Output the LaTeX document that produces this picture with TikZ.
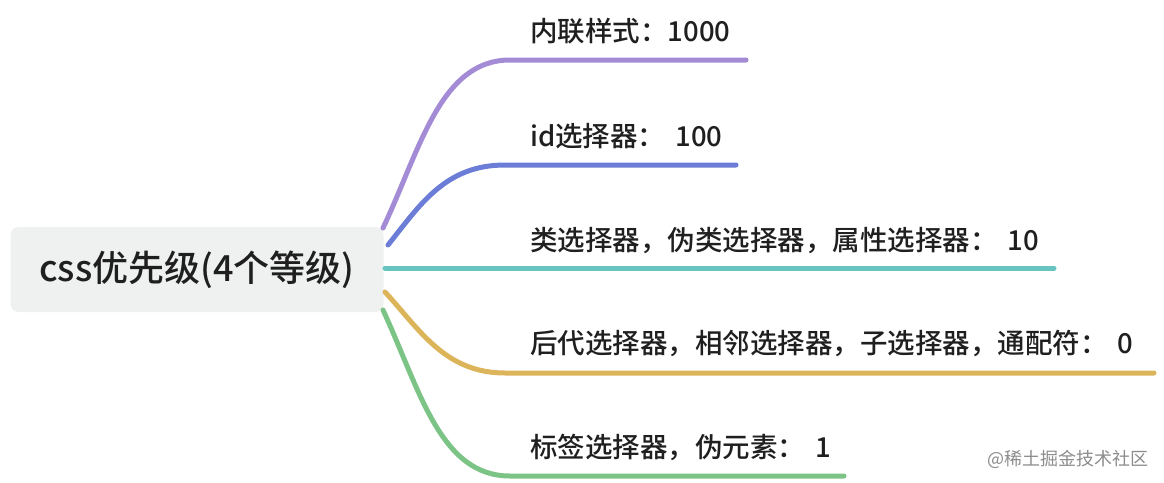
\documentclass[tikz,border=0pt]{standalone}
\usepackage{fontspec}
\newfontfamily\mainf{Noto Sans CJK SC Medium}
\newfontfamily\wmfont{Noto Sans CJK SC}
\definecolor{cpurple}{RGB}{163,139,214}
\definecolor{cblue}{RGB}{107,125,214}
\definecolor{cteal}{RGB}{104,196,192}
\definecolor{cyellow}{RGB}{220,180,90}
\definecolor{cgreen}{RGB}{124,196,134}
\definecolor{cbox}{RGB}{239,240,240}
\definecolor{ctext}{RGB}{31,31,31}
\begin{document}
\begin{tikzpicture}[x=1pt,y=-1pt,
  rootbox/.style={fill=cbox, rounded corners=8pt, minimum width=373pt, minimum height=85pt, inner sep=0pt, text=ctext, font=\mainf\fontsize{36}{40}\selectfont},
  lbl/.style={anchor=base west, inner sep=0pt, text=ctext, font=\mainf\fontsize{27.5}{30}\selectfont},
  branch/.style={line width=5pt, line cap=round}
]
\useasboundingbox (0,0) rectangle (1164,482);
\node[rootbox] (root) at (197,269.5) {css优先级(4个等级)};
% start coordinates
\coordinate (s1) at (383,228);
\coordinate (s2) at (388,245);
\coordinate (s3) at (385,268);
\coordinate (s4) at (385,292);
\coordinate (s5) at (383,310);
% corner coordinates
\coordinate (c1) at (510,60);
\coordinate (c2) at (505,165);
\coordinate (c4) at (505,373);
\coordinate (c5) at (510,476);
% end coordinates
\coordinate (e1) at (746,60);
\coordinate (e2) at (736,165);
\coordinate (e3) at (1054,268);
\coordinate (e4) at (1154,373);
\coordinate (e5) at (844,476);
\draw[branch, cpurple] (s1) .. controls (420,150) and (440,60) .. (c1) -- (e1);
\draw[branch, cblue] (s2) .. controls (420,205) and (445,165) .. (c2) -- (e2);
\draw[branch, cteal] (s3) -- (e3);
\draw[branch, cyellow] (s4) .. controls (420,330) and (445,373) .. (c4) -- (e4);
\draw[branch, cgreen] (s5) .. controls (420,390) and (440,476) .. (c5) -- (e5);
\node[lbl] (l1) at (530,41) {内联样式：1000};
\node[lbl] (l2) at (530,146) {id选择器：\hspace{10pt}100};
\node[lbl] (l3) at (530,250) {类选择器，伪类选择器，属性选择器：\hspace{10pt}10};
\node[lbl] (l4) at (530,353) {后代选择器，相邻选择器，子选择器，通配符：\hspace{10pt}0};
\node[lbl] (l5) at (530,457) {标签选择器，伪元素：\hspace{10pt}1};
\node[anchor=base west, inner sep=0pt, text=black!45, font=\wmfont\fontsize{18}{20}\selectfont] (wm) at (987,465) {@稀土掘金技术社区};
\end{tikzpicture}
\end{document}
